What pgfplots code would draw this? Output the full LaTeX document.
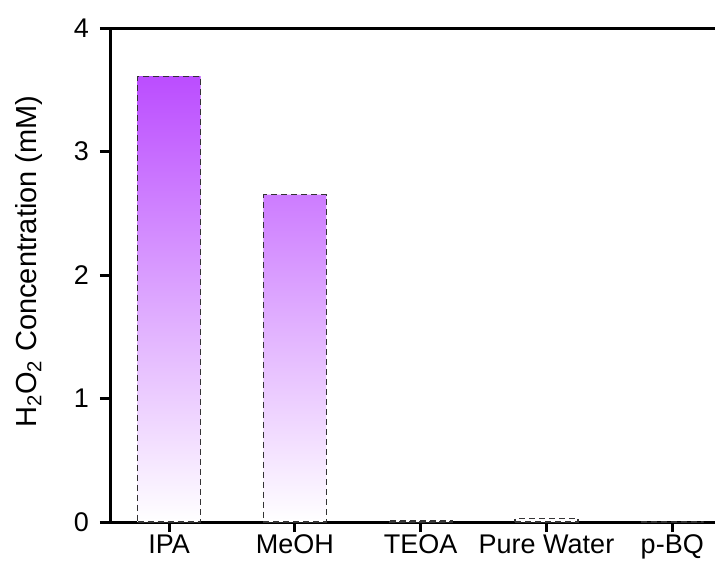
\documentclass[border=0pt]{standalone}
\usepackage{pgfplots}
\pgfplotsset{compat=1.18}
\usepackage{fontspec}
\setmainfont{Liberation Sans}
\definecolor{barpurple}{HTML}{BB4DFF}
\definecolor{barmid}{HTML}{D596FF}

\begin{document}
\begin{tikzpicture}
\begin{axis}[
  scale only axis,
  width=302.5pt, height=247pt,
  xmin=-0.47, xmax=4.34,
  ymin=0, ymax=4,
  ytick={0,1,2,3,4},
  xtick={0,1,2,3,4},
  xticklabels={IPA, MeOH, TEOA, Pure Water, p-BQ},
  axis lines*=left,
  axis line style={line width=1.5pt, -},
  tick style={line width=1.5pt, black},
  major tick length=5pt,
  tick align=outside,
  tick label style={font=\fontsize{13.5}{16}\selectfont},
  /pgf/number format/assume math mode=true,
  yticklabel style={xshift=-2pt},
  xticklabel style={yshift=2pt},
  ylabel={H\textsubscript{2}O\textsubscript{2} Concentration (mM)},
  every axis y label/.style={at={(rel axis cs:0,0.527)}, rotate=90, anchor=base, yshift=36.5pt, font=\fontsize{14.5}{17}\selectfont},
  clip=false,
]
% bars shaded from purple at the top to white at the base
\addplot[
  ybar, bar width=0.5,
  draw=black!80, dash pattern=on 3pt off 2pt, line width=0.6pt,
  shading=axis, top color=barpurple, middle color=barmid, bottom color=white,
] coordinates {(0,3.61) (1,2.65) (2,0.008) (3,0.03) (4,0)};
% top frame line
\draw[line width=1.5pt] (rel axis cs:0,1) -- (rel axis cs:1,1);
\coordinate (bl) at (rel axis cs:0,0);
\end{axis}
\pgfresetboundingbox
\path[use as bounding box] ([xshift=-55pt,yshift=-20.5pt]bl) rectangle ([xshift=302.5pt,yshift=261pt]bl);
\end{tikzpicture}
\end{document}
